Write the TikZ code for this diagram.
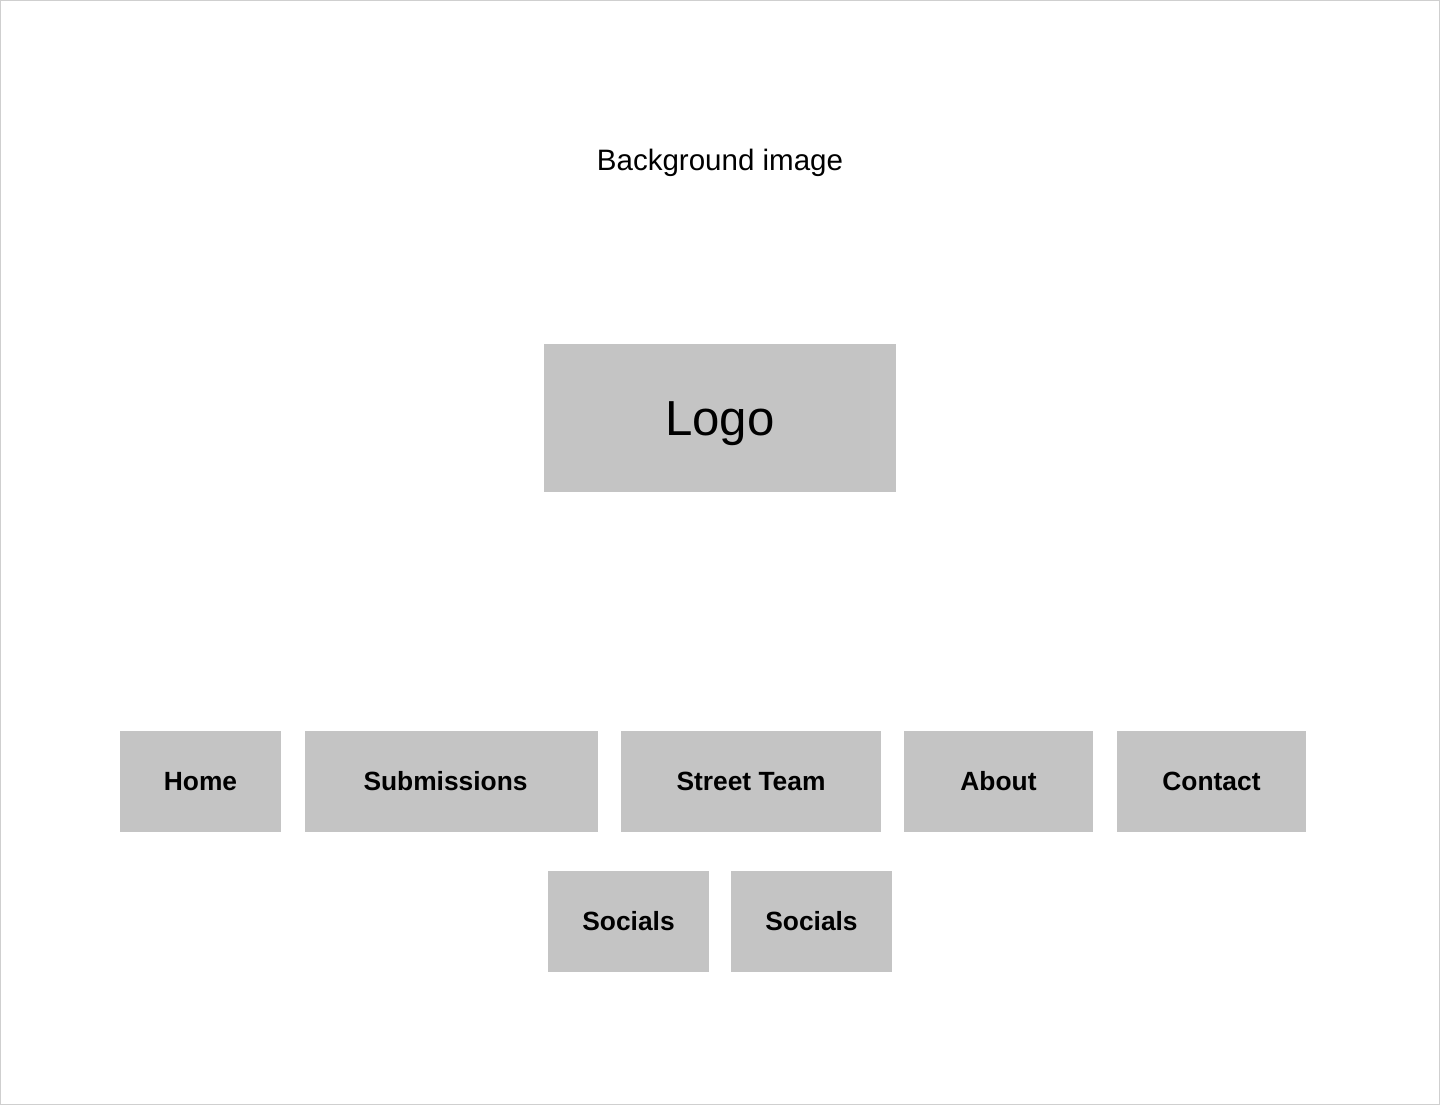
\documentclass[tikz,border=0pt]{standalone}
\usepackage{fontspec}
\setmainfont{Liberation Sans}
\usepackage[HTML]{xcolor}
\usepackage{tikz}
\usetikzlibrary{positioning}
\definecolor{boxgray}{HTML}{C4C4C4}
\definecolor{framegray}{HTML}{CFCFCF}

\begin{document}
\begin{tikzpicture}[x=0.02cm, y=-0.02cm,
  navbox/.style={fill=boxgray, minimum height=2.02cm, inner sep=0pt, text depth=0pt, text height=10.7pt, font=\fontsize{15}{18}\selectfont\bfseries},
  logobox/.style={fill=boxgray, minimum width=7.04cm, minimum height=2.96cm, inner sep=0pt, text depth=0pt, text height=20pt, font=\fontsize{28}{32}\selectfont}]
% --- Page frame ---
\draw[framegray, line width=0.6pt, fill=white] (0.5,0.5) rectangle (1439.5,1104.5);
\useasboundingbox (0,0) rectangle (1440,1105);
% --- Header ---
\node (bg) at (720,163) {\fontsize{16.8}{20}\selectfont Background image};
\node[logobox] (logo) at (720,418) {Logo};
% --- Navigation row ---
\node[navbox, minimum width=3.22cm] (home) at (200.5,781.5) {Home};
\node[navbox, minimum width=5.86cm] (subm) at (451.5,781.5) {\hspace*{-0.24cm}Submissions};
\node[navbox, minimum width=5.20cm] (team) at (751,781.5) {Street Team};
\node[navbox, minimum width=3.78cm] (about) at (998.5,781.5) {About};
\node[navbox, minimum width=3.78cm] (contact) at (1211.5,781.5) {Contact};
% --- Second row ---
\node[navbox, minimum width=3.22cm] (soc1) at (628.5,921.5) {Socials};
\node[navbox, minimum width=3.22cm] (soc2) at (811.5,921.5) {Socials};
\end{tikzpicture}
\end{document}
